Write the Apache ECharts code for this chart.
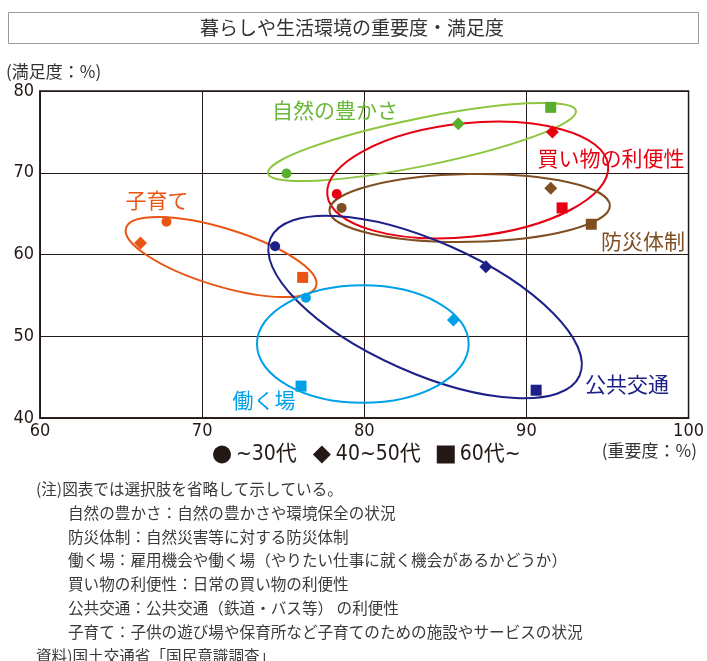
<!DOCTYPE html>
<html><head><meta charset="utf-8">
<script src="https://cdn.jsdelivr.net/npm/echarts@6/dist/echarts.min.js"></script>
<style>html,body{margin:0;padding:0;background:#fff}#c{width:707px;height:661px}</style>
</head><body><div id="c"></div>
<script>
// ---- data ----
var categories = ['自然の豊かさ', '買い物の利便性', '防災体制', '子育て', '公共交通', '働く場'];
// importance (x) and satisfaction (y) by age group
var imp30   = [75.2, 78.3, 78.6, 67.8, 74.5, 76.4];
var sat30   = [69.9, 67.4, 65.7, 64.0, 61.0, 54.7];
var imp4050 = [85.8, 91.6, 91.5, 66.2, 87.5, 85.5];
var sat4050 = [76.0, 75.0, 68.1, 61.4, 58.5, 52.0];
var imp60   = [91.5, 92.2, 94.0, 76.2, 90.6, 76.1];
var sat60   = [78.0, 65.7, 63.7, 57.2, 43.4, 43.9];
var ageNames = ['~30代', '40~50代', '60代~'];
var xTicks = [60, 70, 80, 90, 100];
var yTicks = [40, 50, 60, 70, 80];
// group ellipses: centre (importance, satisfaction), semi-axes (in importance units), tilt (deg)
var ellCx    = [83.56, 86.38, 86.50, 71.17, 83.75, 79.91];
var ellCy    = [73.76, 69.11, 65.69, 59.69, 53.58, 49.05];
var ellA     = [9.69, 8.71, 8.65, 6.13, 10.43, 6.53];
var ellB     = [1.47, 3.50, 2.09, 1.78, 4.05, 3.62];
var ellAngle = [11.5, 6, 1, -17, -24, 0];

// ---- styles ----
var pointColors = ['#5aae2e', '#e60012', '#7f4f21', '#ea5514', '#1d2088', '#00a0e9'];
var ringColors  = ['#8cc63f', '#e60012', '#7f4f21', '#ea5514', '#1d2088', '#00a0e9'];
var labelColors = ['#6ab83a', '#e60012', '#7f4f21', '#ea5514', '#1d2088', '#00a0e9'];
var labelPos = [[335,110],[611,158],[643,241],[157,200],[627,384],[264,400]];
var numFont = '"Liberation Sans Narrow","DejaVu Sans Condensed","Noto Sans CJK JP",sans-serif';
var jpFont = '"Noto Sans CJK JP",sans-serif';

function pts(xs, ys) {
  return xs.map(function (x, i) {
    return { value: [x, ys[i]], itemStyle: { color: pointColors[i] } };
  });
}
var ellData = ellCx.map(function (c, i) { return [c, ellCy[i], ellA[i], ellB[i], ellAngle[i]]; });

var chart = echarts.init(document.getElementById('c'));
var graphics = [
  { type: 'rect', shape: { x: 8.5, y: 12.5, width: 690, height: 31 }, style: { fill: '#fff', stroke: '#999', lineWidth: 1 } },
  { type: 'text', x: 352, y: 28, style: { text: '暮らしや生活環境の重要度・満足度', font: '19px ' + jpFont, fill: '#333', align: 'center', verticalAlign: 'middle' } },
  { type: 'text', x: 6, y: 72, style: { text: '(満足度：%)', font: '17px ' + jpFont, fill: '#333', align: 'left', verticalAlign: 'middle' } },
  { type: 'text', x: 697, y: 451, style: { text: '(重要度：%)', font: '17px ' + jpFont, fill: '#333', align: 'right', verticalAlign: 'middle' } }
];
categories.forEach(function (name, i) {
  graphics.push({ type: 'text', x: labelPos[i][0], y: labelPos[i][1], z: 10,
    style: { text: name, font: '21px ' + jpFont, fill: labelColors[i], align: 'center', verticalAlign: 'middle' } });
});
var notes = [
  ['(注)図表では選択肢を省略して示している。', 36],
  ['自然の豊かさ：自然の豊かさや環境保全の状況', 68],
  ['防災体制：自然災害等に対する防災体制', 68],
  ['働く場：雇用機会や働く場（やりたい仕事に就く機会があるかどうか）', 68],
  ['買い物の利便性：日常の買い物の利便性', 68],
  ['公共交通：公共交通（鉄道・バス等） の利便性', 68],
  ['子育て：子供の遊び場や保育所など子育てのための施設やサービスの状況', 68],
  ['資料)国土交通省「国民意識調査」', 36]
];
notes.forEach(function (n, i) {
  graphics.push({ type: 'text', x: n[1], y: 489 + i * 23.8,
    style: { text: n[0], font: '15.6px ' + jpFont, fill: '#3a3a3a', align: 'left', verticalAlign: 'middle' } });
});

var symbols = ['circle', 'diamond', 'rect'];
var sizes = [10, 13, 11];
var seriesX = [imp30, imp4050, imp60];
var seriesY = [sat30, sat4050, sat60];
var series = [{
  type: 'custom',
  name: 'ellipses',
  data: ellData,
  encode: { x: 0, y: 1 },
  clip: false,
  z: 2,
  silent: true,
  renderItem: function (params, api) {
    var c = api.coord([api.value(0), api.value(1)]);
    var s = api.size([1, 1]);
    return {
      type: 'ellipse',
      x: c[0], y: c[1],
      rotation: api.value(4) * Math.PI / 180,
      shape: { cx: 0, cy: 0, rx: api.value(2) * s[0], ry: api.value(3) * s[0] },
      style: { fill: 'none', stroke: ringColors[params.dataIndex], lineWidth: 2 }
    };
  }
}];
ageNames.forEach(function (nm, k) {
  series.push({
    type: 'scatter', name: nm, symbol: symbols[k], symbolSize: sizes[k], z: 5,
    itemStyle: { color: '#231815', opacity: 1 },
    data: pts(seriesX[k], seriesY[k])
  });
});

chart.setOption({
  animation: false,
  backgroundColor: '#fff',
  grid: { left: 40, right: 15, top: 91, bottom: 243, show: true, borderColor: '#231815', borderWidth: 1.5, backgroundColor: 'transparent' },
  xAxis: {
    type: 'value', min: xTicks[0], max: xTicks[xTicks.length - 1], interval: 10,
    axisLine: { show: true, lineStyle: { color: '#231815', width: 1.5 } },
    axisTick: { show: false },
    axisLabel: { color: '#231815', fontSize: 18, fontFamily: numFont, margin: 4 },
    splitLine: { show: true, lineStyle: { color: '#231815', width: 1 } }
  },
  yAxis: {
    type: 'value', min: yTicks[0], max: yTicks[yTicks.length - 1], interval: 10,
    axisLine: { show: true, lineStyle: { color: '#231815', width: 1.5 } },
    axisTick: { show: false },
    axisLabel: { color: '#231815', fontSize: 18, fontFamily: numFont, margin: 6 },
    splitLine: { show: true, lineStyle: { color: '#231815', width: 1 } }
  },
  legend: {
    data: [{ name: ageNames[0], icon: 'circle' }, { name: ageNames[1], icon: 'diamond' }, { name: ageNames[2], icon: 'rect' }],
    left: 208, top: 439, itemWidth: 18, itemHeight: 18, itemGap: 16,
    textStyle: { color: '#231815', fontSize: 21, fontFamily: numFont },
    selectedMode: false
  },
  graphic: graphics,
  series: series
});
</script>
</body></html>
